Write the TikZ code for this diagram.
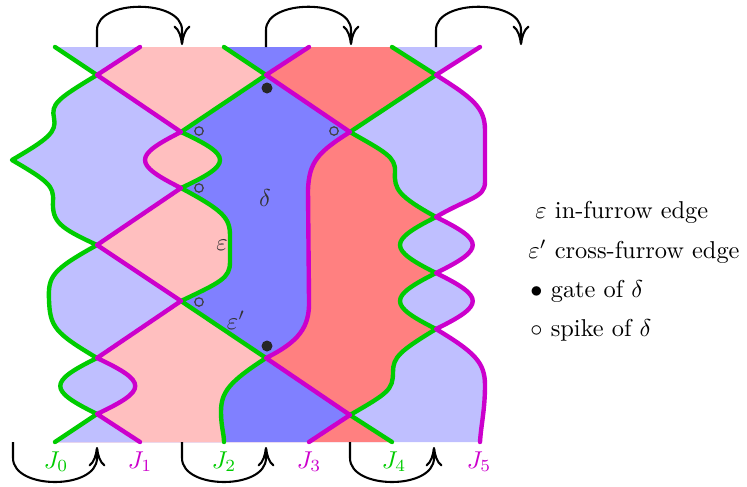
\documentclass[tikz,border=0pt]{standalone}
\usetikzlibrary{arrows.meta}
\definecolor{lb}{RGB}{191,191,255}
\definecolor{pk}{RGB}{255,191,191}
\definecolor{mb}{RGB}{128,128,255}
\definecolor{sm}{RGB}{255,128,128}
\definecolor{gr}{RGB}{0,204,0}
\definecolor{mg}{RGB}{204,0,204}
\begin{document}
\begin{tikzpicture}[x=0.41pt,y=-0.41pt,
  gline/.style={draw=gr,line width=1.8pt,line cap=round,line join=round},
  mline/.style={draw=mg,line width=1.8pt,line cap=round,line join=round},
  arr/.style={line width=0.85pt,-{To[length=8pt,width=7pt]}},
  gatedot/.style={fill=black!85},
  spikedot/.style={draw=black!75,line width=0.5pt},
  lbl/.style={text=black!80,inner sep=0pt},
  leg/.style={anchor=base west,inner sep=0pt},
  jg/.style={text=gr,anchor=base,inner sep=0pt},
  jm/.style={text=mg,anchor=base,inner sep=0pt},
  curveGzero/.style={insert path={-- (A1) .. controls (57,99) and (51,104) .. (54,118) .. controls (57,132) and (48,139) .. (12,160) .. controls (48,181) and (54,186) .. (53,201) .. controls (52,222) and (60,228) .. (A4) .. controls (52,270) and (48,276) .. (49,300) .. controls (50,327) and (55,333) .. (A6) .. controls (48,382) and (48,390) .. (A7) -- (55,442)}},
  curveMone/.style={insert path={-- (A1) -- (A2) .. controls (133,156) and (133,164) .. (A3) -- (A4) -- (A5) -- (A6) .. controls (148,382) and (148,390) .. (A7) -- (140,442)}},
  curveGtwo/.style={insert path={-- (B1) -- (A2) .. controls (233,156) and (233,164) .. (A3) .. controls (224,211) and (230,218) .. (230,236) -- (230,262) .. controls (230,278) and (221,282) .. (A5) -- (B3) .. controls (229,382) and (221,392) .. (221,412) .. controls (221,426) and (224,434) .. (224,442)}},
  curveMthree/.style={insert path={-- (B1) -- (B2) .. controls (318,152) and (309,162) .. (308,190) -- (309,300) .. controls (310,328) and (298,342) .. (B3) -- (B4) -- (309,442)}},
  curveGfour/.style={insert path={-- (C1) -- (B2) .. controls (385,152) and (396,157) .. (395,172) .. controls (394,189) and (398,196) .. (C2) .. controls (388,241) and (388,249) .. (C3) .. controls (388,297) and (388,305) .. (C4) .. controls (400,351) and (393,357) .. (393,372) .. controls (393,390) and (388,393) .. (B4) -- (392,442)}},
  curveMfive/.style={insert path={-- (C1) .. controls (473,98) and (485,108) .. (485,130) -- (485,182) .. controls (485,198) and (468,198) .. (C2) .. controls (485,241) and (485,249) .. (C3) .. controls (485,297) and (485,305) .. (C4) .. controls (474,352) and (485,362) .. (485,385) .. controls (485,410) and (481,425) .. (480,442)}}
]
\useasboundingbox (0,0) rectangle (747,486);
% crossing points
\coordinate (A1) at (97,75);
\coordinate (A2) at (181,132);
\coordinate (A3) at (181,188);
\coordinate (A4) at (97,245);
\coordinate (A5) at (181,301);
\coordinate (A6) at (97,358);
\coordinate (A7) at (97,414);
\coordinate (B1) at (266,75);
\coordinate (B2) at (350,132);
\coordinate (B3) at (266,358);
\coordinate (B4) at (350,415);
\coordinate (C1) at (436,75);
\coordinate (C2) at (436,217);
\coordinate (C3) at (436,273);
\coordinate (C4) at (436,329);
% fills
\begin{scope}
\clip (55,47) [curveGzero] -- (747,442) -- (747,47) -- cycle;
\fill[lb] (480,47) [curveMfive] -- (0,442) -- (0,47) -- cycle;
\fill[sm] (392,47) [curveGfour] -- (0,442) -- (0,47) -- cycle;
\fill[mb] (309,47) [curveMthree] -- (0,442) -- (0,47) -- cycle;
\fill[pk] (224,47) [curveGtwo] -- (0,442) -- (0,47) -- cycle;
\fill[lb] (140,47) [curveMone] -- (0,442) -- (0,47) -- cycle;
\end{scope}
% strands
\path[gline] (55,47) [curveGzero];
\path[gline] (224,47) [curveGtwo];
\path[gline] (392,47) [curveGfour];
\path[mline] (140,47) [curveMone];
\path[mline] (309,47) [curveMthree];
\path[mline] (480,47) [curveMfive];
% gates and spikes
\fill[gatedot] (267,88) circle (5.5);
\fill[gatedot] (267,346) circle (5.5);
\draw[spikedot] (199,131) circle (4.2);
\draw[spikedot] (199,188) circle (4.2);
\draw[spikedot] (199,302) circle (4.2);
\draw[spikedot] (334,131) circle (4.2);
% labels
\node[lbl] (delta) at (265,198) {$\delta$};
\node[lbl] (eps) at (222,245) {$\varepsilon$};
\node[lbl] (epsp) at (236,320) {$\varepsilon'$};
% legend
\node[leg] (leg1) at (535,218) {$\varepsilon$ in-furrow edge};
\node[leg] (leg2) at (528,258) {$\varepsilon'$ cross-furrow edge};
\node[leg] (leg3) at (530,297) {$\bullet$ gate of $\delta$};
\node[leg] (leg4) at (530,336) {$\circ$ spike of $\delta$};
% strand names
\node[jg] (J0) at (56,468) {$J_0$};
\node[jm] (J1) at (140,468) {$J_1$};
\node[jg] (J2) at (224,468) {$J_2$};
\node[jm] (J3) at (309,468) {$J_3$};
\node[jg] (J4) at (394,468) {$J_4$};
\node[jm] (J5) at (479,468) {$J_5$};
% shift arrows
\draw[arr] (97,47) -- (97,30) .. controls +(0,-31) and +(0,-31) .. (182,30) -- (182,45);
\draw[arr] (266,47) -- (266,30) .. controls +(0,-31) and +(0,-31) .. (351,30) -- (351,45);
\draw[arr] (436,47) -- (436,30) .. controls +(0,-31) and +(0,-31) .. (521,30) -- (521,45);
\draw[arr] (13,442) -- (13,458) .. controls +(0,32) and +(0,32) .. (97,458) -- (97,447);
\draw[arr] (182,442) -- (182,458) .. controls +(0,32) and +(0,32) .. (266,458) -- (266,447);
\draw[arr] (350,442) -- (350,458) .. controls +(0,32) and +(0,32) .. (434,458) -- (434,447);
\end{tikzpicture}
\end{document}
